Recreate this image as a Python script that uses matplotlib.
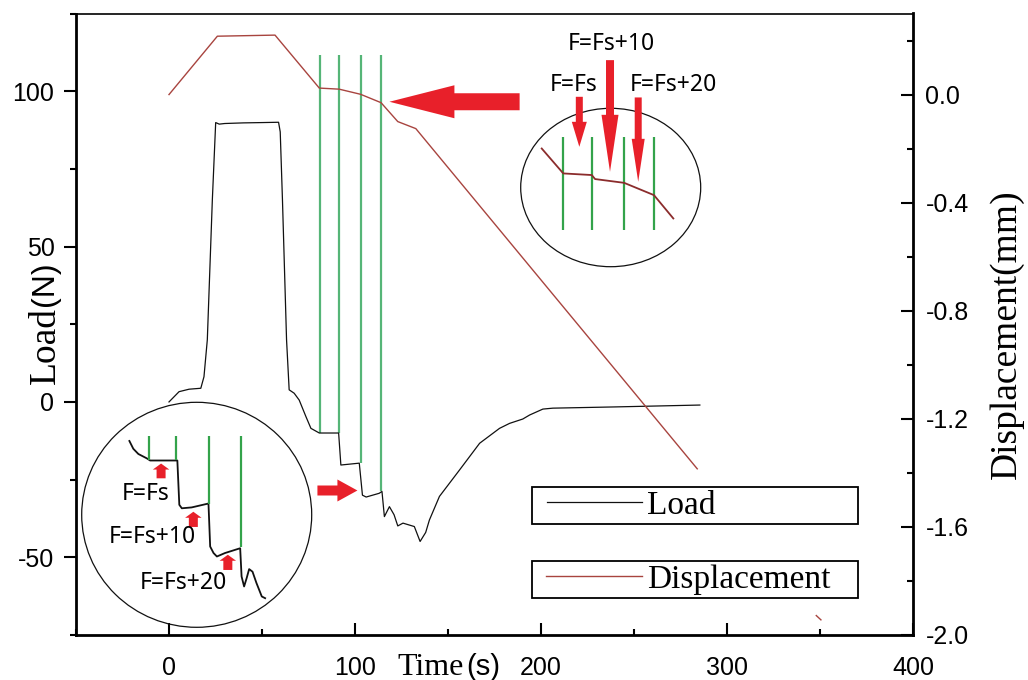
import matplotlib
matplotlib.use("Agg")
import matplotlib.pyplot as plt
from matplotlib.patches import Ellipse
from matplotlib.legend_handler import HandlerLine2D
from matplotlib.ticker import MultipleLocator, FixedLocator, FormatStrFormatter

plt.rcParams["axes.unicode_minus"] = False

# ---------------- data ----------------
load_time = [0, 5.4, 10.8, 17.1, 18.8, 20.6, 23.3, 25.1, 27, 30, 40, 50, 58.9, 59.8, 61, 63.2,
             64.6, 67.3, 70, 73.6, 76.3, 80.8, 91.2, 92.4, 102.3, 104, 106, 113, 114.5, 115.8,
             118.5, 121, 123, 125.8, 131.9, 135, 138, 140, 145.4, 156.2, 167, 177.7, 183.1,
             190.2, 193.9, 201, 206.4, 240, 285.4]
load_value = [0, 3.3, 4.1, 4.4, 8.1, 20, 65, 89.9, 89.4, 89.6, 89.8, 89.9, 90, 86.9, 65, 20,
              3.9, 2.8, 0.6, -4.7, -8.5, -10, -10, -20.3, -19.7, -30, -30.6, -29.4, -28.8, -36.9,
              -33.7, -36.3, -39.9, -39, -40.1, -44.9, -42, -38, -30.4, -21.9, -13.3, -8.5, -6.9,
              -5.5, -4.2, -2.3, -2.0, -1.6, -1.0]

disp_time = [0, 26, 57, 80.8, 91.5, 103, 114, 123, 132.7, 284]
disp_value = [0, 0.216, 0.22, 0.024, 0.02, 0.001, -0.03, -0.1, -0.126, -1.385]

stray_time = [348, 350.5]
stray_disp = [-1.928, -1.944]

marker_time = [81.1, 91.5, 103.2, 114.0]
marker_top = 111.6
marker_bottom = [-10, -10, -19.5, -28.8]

# zoomed view of the load steps (lower-left circle)
zl_time = [74.2, 75.6, 77.4, 80.4, 81.6, 91.3, 92.0, 92.9, 96.4, 102.4, 103.0, 104.2, 105.4,
           108.3, 113.7, 114.2, 115.1, 116.0, 116.9, 118.1, 119.5, 121.4, 122.6]
zl_load = [-5.6, -7.4, -8.6, -9.6, -10.1, -10.1, -20.3, -21.1, -20.9, -20.0, -29.9, -31.4, -32.2,
           -31.4, -30.3, -36.8, -39.1, -37.2, -35.1, -35.7, -38.3, -41.4, -41.8]
zl_marker_time = [81.1, 90.8, 102.5, 114.0]
zl_marker_top = -4.5
zl_marker_bottom = [-10, -10, -20, -29.9]
zl_arrow_time = [85.5, 97.0, 109.3]
zl_arrow_tail = [-14.2, -25.4, -35.3]
zl_arrow_tip = [-10.8, -21.9, -31.8]
zl_labels = ["F=Fs", "F=Fs+10", "F=Fs+20"]
zl_label_time = [80.0, 82.5, 93.4]
zl_label_load = [-17.7, -27.6, -38.3]

# zoomed view of the displacement (upper-right ellipse)
zd_time = [73.3, 81.1, 91.4, 92.6, 103.1, 113.9, 120.9]
zd_disp = [0.086, 0.024, 0.020, 0.010, 0.0006, -0.030, -0.088]
zd_marker_time = [81.1, 91.5, 103.2, 114.0]
zd_marker_top = 0.1136
zd_marker_bottom = -0.117
zd_arrow_time = [86.9, 98.0, 108.2]
zd_arrow_tail = [0.2146, 0.3058, 0.213]
zd_arrow_tip = [0.0902, 0.028, 0.0031]
zd_labels = ["F=Fs", "F=Fs+10", "F=Fs+20"]
zd_label_time = [84.7, 98.6, 120.9]
zd_label_disp = [0.243, 0.347, 0.245]

# ---------------- style ----------------
BLACK = "#111111"
BROWN = "#a8443f"
BROWN_DARK = "#8b2c2c"
GREEN = "#55b577"
GREEN2 = "#33a34a"
RED = "#e8202a"
SANS = ["Liberation Sans", "DejaVu Sans"]
SERIF = ["Liberation Serif", "DejaVu Serif"]
NOTE = ["Noto Sans", "DejaVu Sans"]

W, H = 1028, 680
fig = plt.figure(figsize=(W / 100, H / 100), dpi=100)


def fx(px):
    return px / W


def fy(py):
    return 1 - py / H


PT = 72 / fig.dpi


def block_arrow(axx, tail, tip, shaft, head_w, head_len):
    axx.annotate("", xy=tip, xytext=tail, xycoords="data", textcoords="data",
                 annotation_clip=False,
                 arrowprops=dict(arrowstyle=f"simple,head_length={head_len*PT},"
                                            f"head_width={head_w*PT},tail_width={shaft*PT}",
                                 mutation_scale=1, color=RED, lw=0,
                                 shrinkA=0, shrinkB=0))


ax = fig.add_axes([fx(76), fy(635), fx(913) - fx(76), fy(13.5) - fy(635)])
ax2 = ax.twinx()

# main curves
(h_load,) = ax.plot(load_time, load_value, color=BLACK, lw=0.9, zorder=3)
(h_disp,) = ax2.plot(disp_time, disp_value, color=BROWN, lw=1.0, zorder=3)
ax2.plot(stray_time, stray_disp, color=BROWN, lw=1.0)
ax.vlines(marker_time, marker_bottom, marker_top, colors=GREEN, lw=1.6, zorder=2)

ax.set_xlim(-50, 400)
ax.set_ylim(-75, 125)
ax2.set_ylim(-2.0, 0.3)

# ticks & spines
ax.xaxis.set_major_locator(MultipleLocator(100))
ax.xaxis.set_minor_locator(MultipleLocator(50))
ax.yaxis.set_major_locator(MultipleLocator(50))
ax.yaxis.set_minor_locator(MultipleLocator(25))
ax2.yaxis.set_major_locator(FixedLocator([0.0, -0.4, -0.8, -1.2, -1.6, -2.0]))
ax2.yaxis.set_minor_locator(FixedLocator([0.2, -0.2, -0.6, -1.0, -1.4, -1.8]))
ax2.yaxis.set_major_formatter(FormatStrFormatter("%.1f"))

ax.tick_params(axis="x", which="both", direction="in", top=False, width=1.5, pad=15)
ax.tick_params(axis="x", which="major", length=8.5)
ax.tick_params(axis="x", which="minor", length=4.5)
ax.tick_params(axis="y", which="both", direction="out", right=False, width=1.5, pad=7)
ax.tick_params(axis="y", which="major", length=8.5)
ax.tick_params(axis="y", which="minor", length=4.5)
ax2.tick_params(axis="y", which="both", direction="in", width=1.5, pad=9)
ax2.tick_params(axis="y", which="major", length=8.5)
ax2.tick_params(axis="y", which="minor", length=4.5)

for lab in ax.get_xticklabels() + ax.get_yticklabels() + ax2.get_yticklabels():
    lab.set_fontfamily(SANS)
    lab.set_fontsize(18)

for s in ["left", "bottom"]:
    ax.spines[s].set_linewidth(2.0)
ax.spines["top"].set_linewidth(1.2)
ax.spines["right"].set_visible(False)
for s in ["left", "bottom", "top"]:
    ax2.spines[s].set_visible(False)
ax2.spines["right"].set_linewidth(2.0)

# axis labels (mixed serif / sans as in the original)
fig.text(fx(46), fy(346), "Load", rotation=90, ha="center", va="center",
         fontfamily=SERIF, fontsize=27)
fig.text(fx(45), fy(284), "(N)", rotation=90, ha="center", va="center",
         fontfamily=SANS, fontsize=23)
fig.text(fx(464), fy(675), "Time", ha="right", va="baseline", fontfamily=SERIF, fontsize=23)
fig.text(fx(466), fy(675), "(s)", ha="left", va="baseline", fontfamily=SANS, fontsize=21)
fig.text(fx(1007), fy(334.5), "Displacement(mm)", rotation=90, ha="center", va="center",
         fontfamily=SERIF, fontsize=27)

# big arrows on main axes
block_arrow(ax, (188.5, 96.6), (118.5, 96.6), 17, 33, 65)
block_arrow(ax, (79.8, -28.5), (101.3, -28.5), 10, 22, 20)


# legends: two separate boxes
class PadLine(HandlerLine2D):
    def create_artists(self, legend, orig_handle, xdescent, ydescent, width, height,
                       fontsize, trans):
        pad = 8
        return super().create_artists(legend, orig_handle, xdescent - pad, ydescent,
                                      width - pad, height, fontsize, trans)


def make_legend(handle, label, left, top, right):
    leg = ax.legend([handle], [label], loc="upper left",
                    bbox_to_anchor=(fx(left), fy(top) - 0.01, fx(right) - fx(left), 0.01),
                    bbox_transform=fig.transFigure, mode="expand", borderaxespad=0,
                    borderpad=0.1, handlelength=3.2, handletextpad=0.15,
                    fancybox=False, framealpha=1, edgecolor="black",
                    prop=dict(family=SERIF, size=24),
                    handler_map={handle: PadLine()})
    leg.get_frame().set_linewidth(1.3)
    return leg


leg1 = make_legend(h_load, "Load", 532.3, 486.7, 858.3)
ax.add_artist(leg1)
leg2 = make_legend(h_disp, "Displacement", 531.7, 560.7, 857.7)
leg2.remove()
ax2.add_artist(leg2)

# lower-left zoom circle
ins1 = fig.add_axes([fx(81.7), fy(627.3), fx(311.7) - fx(81.7), fy(402.3) - fy(627.3)])
ins1.set_xlim(57.2, 139.2)
ins1.set_ylim(-48.5, 3.3)
ins1.axis("off")
ins1.add_patch(Ellipse((0.5, 0.5), 1, 1, transform=ins1.transAxes, fill=False,
                       edgecolor=BLACK, lw=0.9, clip_on=False))
ins1.plot(zl_time, zl_load, color=BLACK, lw=1.3, clip_on=False)
ins1.vlines(zl_marker_time, zl_marker_bottom, zl_marker_top, colors=GREEN2, lw=1.6)
for t, a, b in zip(zl_arrow_time, zl_arrow_tail, zl_arrow_tip):
    block_arrow(ins1, (t, a), (t, b), 9, 16.5, 6)
for s, t, v in zip(zl_labels, zl_label_time, zl_label_load):
    ins1.text(t, v, s, ha="center", va="center", fontfamily=NOTE, fontsize=16.5)

# upper-right zoom ellipse
ins2 = fig.add_axes([fx(520.7), fy(266.7), fx(700.7) - fx(520.7), fy(108.3) - fy(266.7)])
ins2.set_xlim(65.7, 130.8)
ins2.set_ylim(-0.208, 0.186)
ins2.axis("off")
ins2.add_patch(Ellipse((0.5, 0.5), 1, 1, transform=ins2.transAxes, fill=False,
                       edgecolor=BLACK, lw=0.9, clip_on=False))
ins2.vlines(zd_marker_time, zd_marker_bottom, zd_marker_top, colors=GREEN2, lw=1.6)
ins2.plot(zd_time, zd_disp, color=BROWN_DARK, lw=1.3)
heads = [(7, 15, 25), (8, 17, 57), (7, 13, 43)]
for t, a, b, (sw, hw, hl) in zip(zd_arrow_time, zd_arrow_tail, zd_arrow_tip, heads):
    block_arrow(ins2, (t, a), (t, b), sw, hw, hl)
for s, t, v in zip(zd_labels, zd_label_time, zd_label_disp):
    ins2.text(t, v, s, ha="center", va="center", fontfamily=NOTE, fontsize=16.5,
              clip_on=False)

fig.savefig("out.png", dpi=100, facecolor="white")
